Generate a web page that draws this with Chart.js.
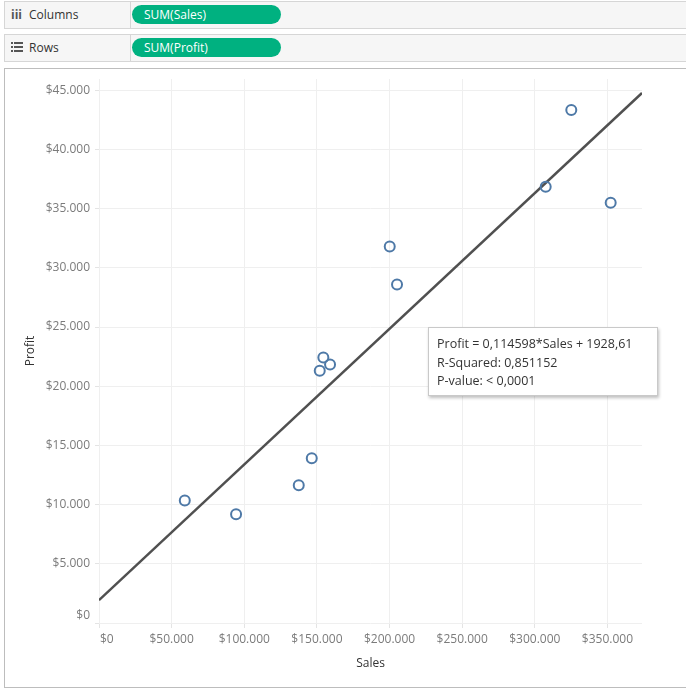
<!DOCTYPE html>
<html>
<head>
<meta charset="utf-8">
<script src="https://cdn.jsdelivr.net/npm/chart.js@4.4.0/dist/chart.umd.min.js"></script>
<style>
  body { margin: 0; width: 686px; height: 690px; background: #fff; font-family: 'Open Sans', sans-serif; position: relative; overflow: hidden; }
  .shelf { position: absolute; left: 4px; right: 0; height: 26px; background: #f6f6f6; border: 1px solid #d6d6d6; border-right: none; }
  .shelf .name { position: absolute; left: 0; top: 0; width: 125px; height: 26px; border-right: 1px solid #d6d6d6; font-size: 12px; color: #333; line-height: 26px; }
  .shelf .name span.ic { display: inline-block; width: 18px; margin-left: 6px; color: #555; font-weight: bold; }
  .pill { position: absolute; left: 127px; top: 3px; width: 149px; height: 19px; border-radius: 10px; background: #00b180; color: #fff; font-size: 12px; line-height: 19px; padding-left: 12px; box-sizing: border-box; }
  #pane { position: absolute; left: 4px; top: 68px; width: 682px; height: 620px; border: 1px solid #bdbdbd; border-right: none; box-sizing: border-box; background: #fff; }
  #wrap { position: absolute; left: 0; top: 0; width: 686px; height: 690px; }
  #note { position: absolute; left: 428px; top: 327px; width: 230px; height: 69px; box-sizing: border-box; background: #fff; border: 1px solid #c9c9c9; box-shadow: 1px 2px 3px rgba(0,0,0,0.25); font-size: 12.5px; color: #333; padding: 7px 0 0 8px; line-height: 18.5px; }
</style>
</head>
<body>
<div class="shelf" style="top:1px"><div class="name"><span class="ic">iii</span>Columns</div><div class="pill">SUM(Sales)</div></div>
<div class="shelf" style="top:34px"><div class="name"><span class="ic">
<svg width="12" height="10" viewBox="0 0 12 10"><g fill="#555"><rect x="0" y="0" width="2" height="2"/><rect x="3" y="0" width="9" height="2"/><rect x="0" y="4" width="2" height="2"/><rect x="3" y="4" width="9" height="2"/><rect x="0" y="8" width="2" height="2"/><rect x="3" y="8" width="9" height="2"/></g></svg></span>Rows</div><div class="pill">SUM(Profit)</div></div>
<div id="pane"></div>
<div id="wrap"><canvas id="c" width="686" height="690"></canvas></div>
<div id="note">Profit = 0,114598*Sales + 1928,61<br>R-Squared: 0,851152<br>P-value: &lt; 0,0001</div>
<script>
const sales = [59050, 94360, 137510, 146460, 151960, 154440, 159050, 200140, 205160, 307500, 325120, 352240];
const profit = [10340, 9190, 11630, 13910, 21310, 22430, 21840, 31800, 28600, 36840, 43340, 35490];
const trendSlope = 0.114598;
const trendIntercept = 1928.61;
const xMax = 373800;
const yMax = 45950;
const xTickStep = 50000;
const yTickStep = 5000;

function money(v) {
  return '$' + String(Math.round(v)).replace(/\B(?=(\d{3})+(?!\d))/g, '.');
}

// chart.js bends the step when min/max are set, so lay ticks out ourselves
function stepTicks(step, max) {
  const out = [];
  for (let v = 0; v <= max; v += step) out.push({value: v});
  return out;
}

const points = sales.map((s, i) => ({x: s, y: profit[i]}));
const trend = [0, xMax].map(x => ({x: x, y: trendSlope * x + trendIntercept}));

new Chart(document.getElementById('c').getContext('2d'), {
  type: 'scatter',
  data: {
    datasets: [
      {
        type: 'line',
        data: trend,
        borderColor: '#505050',
        borderWidth: 2.5,
        pointRadius: 0,
        fill: false,
        order: 2
      },
      {
        data: points,
        borderColor: '#4e79a7',
        backgroundColor: 'rgba(255,255,255,0)',
        borderWidth: 2,
        pointRadius: 5,
        order: 1
      }
    ]
  },
  options: {
    responsive: false,
    animation: false,
    events: [],
    layout: { padding: { left: 0, top: 79, right: 44, bottom: 0 } },
    plugins: { legend: { display: false }, tooltip: { enabled: false } },
    scales: {
      x: {
        type: 'linear',
        min: 0,
        max: xMax,
        border: { display: false },
        grid: { color: '#efefef', tickLength: 5, tickColor: '#e4e4e4' },
        ticks: {
          maxRotation: 0,
          autoSkip: false,
          padding: 4,
          color: '#7b7b7b',
          font: { family: 'Open Sans', size: 12 },
          callback: v => v === 0 ? '     ' + money(v) : money(v)
        },
        title: { display: true, text: 'Sales', color: '#333', font: { family: 'Open Sans', size: 12 }, padding: { top: 4, bottom: 19 } },
        afterBuildTicks: s => { s.ticks = stepTicks(xTickStep, xMax); },
        afterFit: s => { s.height = 67; }
      },
      y: {
        type: 'linear',
        min: 0,
        max: yMax,
        border: { display: false },
        grid: { color: '#efefef', tickLength: 4, tickColor: '#e4e4e4' },
        ticks: {
          autoSkip: false,
          padding: 5,
          color: '#7b7b7b',
          font: { family: 'Open Sans', size: 12 },
          callback: v => v === 0 ? [money(v), ''] : money(v)
        },
        title: { display: true, text: 'Profit', color: '#333', font: { family: 'Open Sans', size: 12 }, padding: { top: 23 } },
        afterBuildTicks: s => { s.ticks = stepTicks(yTickStep, yMax); },
        afterFit: s => { s.width = 99; }
      }
    }
  }
});
</script>
</body>
</html>
